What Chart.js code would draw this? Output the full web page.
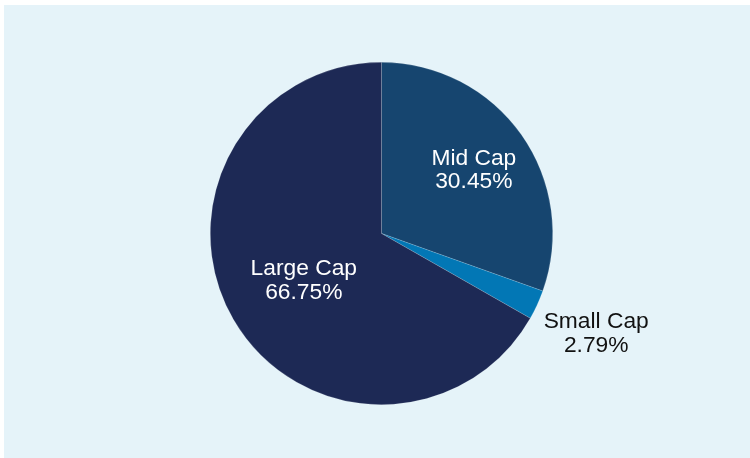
<!DOCTYPE html>
<html>
<head>
<meta charset="utf-8">
<script src="https://cdn.jsdelivr.net/npm/chart.js@4.4.1/dist/chart.umd.min.js"></script>
<style>
  html, body { margin: 0; padding: 0; background: #ffffff; }
  #wrap { position: relative; width: 750px; height: 458px; overflow: hidden; }
  #panel { position: absolute; left: 4px; top: 5px; width: 746px; height: 453px; background: #e5f3f9; }
  #pie { position: absolute; left: 0; top: 0; }
</style>
</head>
<body>
<div id="wrap">
  <div id="panel"></div>
  <canvas id="pie" width="750" height="458"></canvas>
</div>
<script>
// market cap split, clockwise from 12 o'clock
const categories = ['Mid Cap', 'Small Cap', 'Large Cap'];
const shares = [30.45, 2.79, 66.75];

const sliceColors = ['#16456f', '#0277b5', '#1d2955'];
const labelColors = ['#ffffff', '#111111', '#ffffff'];
// distance of each label from the centre, as a fraction of the radius
const labelRadius = [0.66, 1.38, 0.525];

const pieLabels = {
    id: 'pieLabels',
    afterDatasetsDraw(chart) {
        const ctx = chart.ctx;
        const meta = chart.getDatasetMeta(0);
        const size = 22.8;
        ctx.save();
        ctx.font = size + 'px "Liberation Sans", Arial, sans-serif';
        ctx.textAlign = 'center';
        ctx.textBaseline = 'alphabetic';
        meta.data.forEach((arc, i) => {
            const p = arc.getProps(['x', 'y', 'startAngle', 'endAngle', 'outerRadius'], true);
            const mid = (p.startAngle + p.endAngle) / 2;
            const r = p.outerRadius * labelRadius[i];
            const cx = p.x + Math.cos(mid) * r;
            const cy = p.y + Math.sin(mid) * r;
            const capMid = size * 0.358;
            ctx.fillStyle = labelColors[i];
            ctx.fillText(categories[i], cx, cy - 11.8 + capMid);
            ctx.fillText(shares[i].toFixed(2) + '%', cx, cy + 11.8 + capMid);
        });
        ctx.restore();
    }
};

new Chart(document.getElementById('pie'), {
    type: 'pie',
    data: {
        labels: categories,
        datasets: [{
            data: shares,
            backgroundColor: sliceColors,
            borderColor: 'rgba(255, 255, 255, 0.25)',
            borderWidth: 0.6
        }]
    },
    options: {
        responsive: false,
        animation: false,
        layout: { padding: { left: 210, right: 197, top: 62, bottom: 53 } },
        plugins: {
            legend: { display: false },
            tooltip: { enabled: false }
        }
    },
    plugins: [pieLabels]
});
</script>
</body>
</html>
